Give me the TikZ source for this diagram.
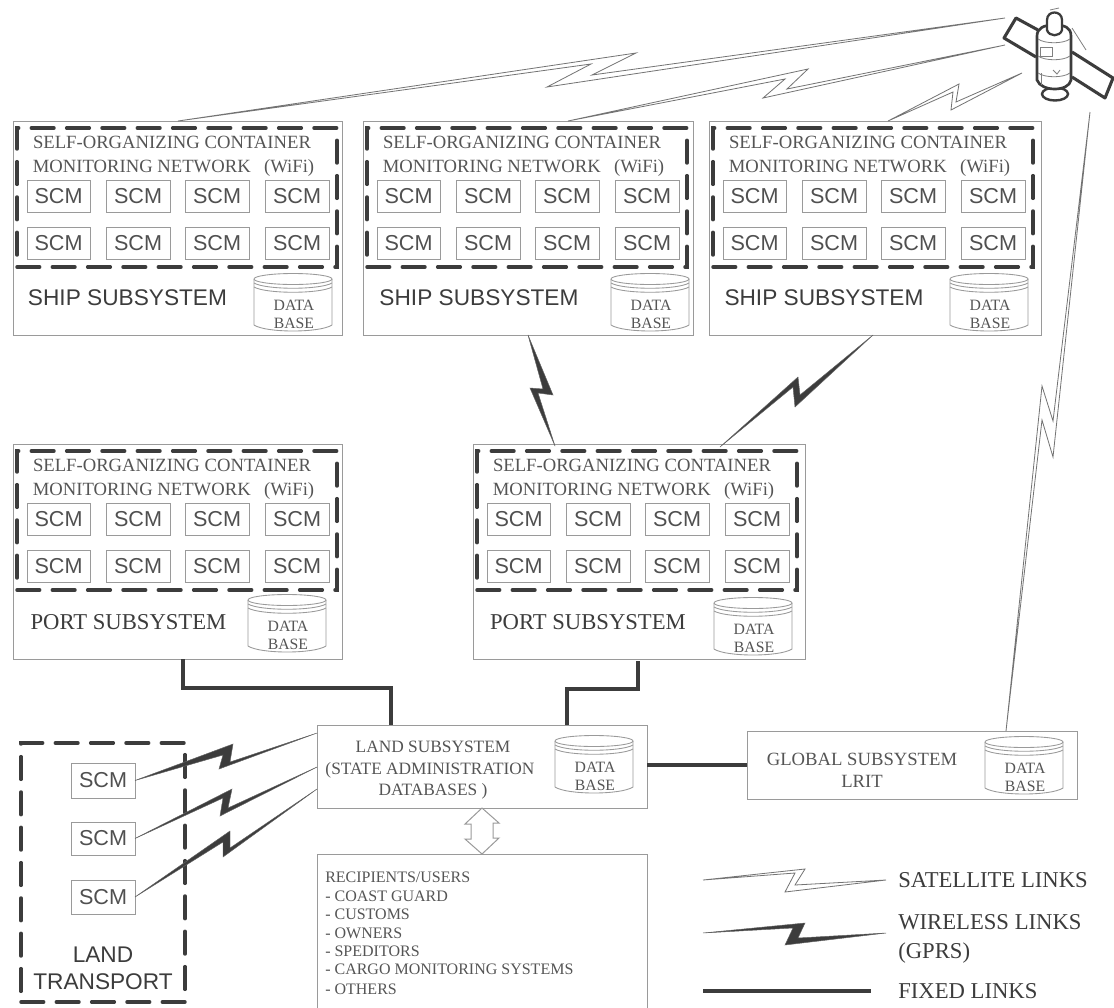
\documentclass[tikz,border=0pt]{standalone}
\usepackage{fontspec}
\usetikzlibrary{calc}
\setmainfont{Liberation Serif}
\newfontfamily\arialf{Liberation Sans}
\definecolor{boxgray}{HTML}{9A9A9A}
\definecolor{txt}{HTML}{555555}
\definecolor{dark}{HTML}{3C3C3C}
\newcommand\fs[1]{\fontsize{#1}{#1}\selectfont}
\tikzset{
  pbox/.style={draw=boxgray,line width=0.75pt,inner sep=0pt,outer sep=0pt,rectangle,fill=white},
  dashbox/.style={draw=dark,line width=2.6pt,line cap=round,dash pattern=on 17pt off 9.5pt,inner sep=0pt,outer sep=0pt,rectangle},
  scmbox/.style={draw=boxgray,line width=0.65pt,inner sep=0pt,outer sep=0pt,rectangle},
  scmtext/.style={text=dark!90,font=\arialf\fs{16.2}},
  serif14/.style={text=txt,font=\fs{14}},
  serif17/.style={text=dark,font=\fs{17}},
  sans17/.style={text=dark,font=\arialf\fs{17}},
  dbtext/.style={text=txt,font=\fs{11.8}},
  reclab/.style={text=txt,font=\fs{12},anchor=west,inner sep=0pt},
  satlink/.style={draw=gray!90!black,fill=white,line width=0.6pt,line join=miter},
  wirelink/.style={draw=dark!80,fill=dark,line width=0.35pt,line join=miter},
  fixedlink/.style={draw=dark,line width=3.5pt,line join=miter},
  dbline/.style={draw=boxgray,line width=0.65pt},
  satline/.style={draw=dark,line width=2.3pt,line join=round},
  satthin/.style={draw=gray,line width=0.6pt},
  twoway/.style={draw=boxgray,fill=white,line width=0.75pt}
}
% box given by its corners, in reference pixels
\newcommand\boxn[6][pbox]{%
  \pgfmathsetmacro\bw{((#5)-(#3))*0.75}\pgfmathsetmacro\bh{((#6)-(#4))*0.75}%
  \node[#1,minimum width=\bw pt,minimum height=\bh pt] (#2) at ({((#3)+(#5))/2},{((#4)+(#6))/2}) {};}
% SCM box with text
\newcommand\scm[5]{%
  \pgfmathsetmacro\bw{((#4)-(#2))*0.75}\pgfmathsetmacro\bh{((#5)-(#3))*0.75}%
  \node[scmbox,scmtext,minimum width=\bw pt,minimum height=\bh pt] (#1) at ({((#2)+(#4))/2},{((#3)+(#5))/2}) {SCM};}
% network block: prefix, dx, dy
\newcommand\network[3]{%
  \boxn[dashbox]{#1dash}{17+#2}{128+#3}{337+#2}{267+#3}
  \node[serif14] (#1la) at ({172+#2},{142+#3}) {SELF-ORGANIZING CONTAINER};
  \node[serif14,anchor=base] (#1lb) at ({173.5+#2},{172+#3}) {MONITORING NETWORK\hspace{10pt}(WiFi)};
  \scm{#1a}{27+#2}{180+#3}{90+#2}{212+#3}
  \scm{#1b}{106+#2}{180+#3}{170+#2}{212+#3}
  \scm{#1c}{185+#2}{180+#3}{249+#2}{212+#3}
  \scm{#1d}{265+#2}{180+#3}{329+#2}{212+#3}
  \scm{#1e}{27+#2}{227+#3}{90+#2}{259+#3}
  \scm{#1f}{106+#2}{227+#3}{170+#2}{259+#3}
  \scm{#1g}{185+#2}{227+#3}{249+#2}{259+#3}
  \scm{#1h}{265+#2}{227+#3}{329+#2}{259+#3}
}
% database cylinder: prefix, left x, top y
\newcommand\database[3]{%
  \draw[dbline] (#2,{#3+6}) arc[start angle=180,end angle=-180,x radius=39,y radius=-5.5];
  \draw[dbline] (#2,{#3+6}) -- (#2,{#3+52}) .. controls ({#2+12},{#3+60}) and ({#2+66},{#3+60}) .. ({#2+78},{#3+52}) -- ({#2+78},{#3+6});
  \draw[dbline] (#2,{#3+10}) .. controls ({#2+12},{#3+17}) and ({#2+66},{#3+17}) .. ({#2+78},{#3+10});
  \draw[dbline] (#2,{#3+14}) .. controls ({#2+12},{#3+21}) and ({#2+66},{#3+21}) .. ({#2+78},{#3+14});
  \node[dbtext] (#1da) at ({#2+40},{#3+32}) {DATA};
  \node[dbtext] (#1db) at ({#2+40},{#3+50}) {BASE};
}
% lightning link: style, end a, outline point, outline point, end b, outline point, outline point
\newcommand\bolt[7]{\draw[#1] (#2) -- #3 -- #4 -- (#5) -- #6 -- #7 -- cycle;}
\begin{document}
\begin{tikzpicture}[x=0.75pt,y=-0.75pt]
\useasboundingbox (0,0) rectangle (1114,1007);
\clip (0,0) rectangle (1114,1007);
\fill[white] (0,0) rectangle (1114,1007);

% subsystem boxes
\boxn{ship1}{13}{121}{342}{335}
\boxn{ship2}{363}{121}{693}{335}
\boxn{ship3}{709}{121}{1041}{335}
\boxn{port1}{13}{444}{342}{659}
\boxn{port2}{473}{444}{805}{659}
\boxn{land}{317}{725}{647}{808}
\boxn{global}{747}{731}{1077}{799}
\boxn{rec}{317}{854}{647}{1015}

\network{sa}{0}{0}
\network{sb}{350}{0}
\network{sc}{696}{0}
\network{pa}{0}{323}
\network{pb}{460}{323}

\node[sans17] (t1) at (127.5,298) {SHIP SUBSYSTEM};
\node[sans17] (t2) at (479,298) {SHIP SUBSYSTEM};
\node[sans17] (t3) at (824,298) {SHIP SUBSYSTEM};
\node[serif17] (t4) at (128.5,622) {PORT SUBSYSTEM};
\node[serif17] (t5) at (588,622) {PORT SUBSYSTEM};

\database{da}{254}{273}
\database{db}{611}{273}
\database{dc}{950}{273}
\database{dd}{248}{594}
\database{de}{714}{597}
\database{df}{555}{735}
\database{dg}{985}{736}

\node[text=txt,font=\fs{13}] (l1) at (433,747) {LAND SUBSYSTEM};
\node[text=txt,font=\fs{13},anchor=base] (l2) at (430,774) {(STATE ADMINISTRATION};
\node[text=txt,font=\fs{13},anchor=base] (l3) at (433,795) {DATABASES )};
\node[serif14] (g1) at (862,759) {GLOBAL SUBSYSTEM};
\node[serif14] (g2) at (862,781) {LRIT};

\node[reclab] (r0) at (325,877) {RECIPIENTS/USERS};
\node[reclab] (r1) at (325,896) {- COAST GUARD};
\node[reclab] (r2) at (325,914) {- CUSTOMS};
\node[reclab] (r3) at (325,933) {- OWNERS};
\node[reclab] (r4) at (325,951) {- SPEDITORS};
\node[reclab] (r5) at (325,969) {- CARGO MONITORING SYSTEMS};
\node[reclab] (r6) at (325,989) {- OTHERS};

% two-way arrow
\draw[twoway] (land.south) -- ++(17,15) -- ++(-6,0) -- ++(0,15) -- ++(6,0) -- (rec.north)
  -- ++(-17,-15) -- ++(6,0) -- ++(0,-15) -- ++(-6,0) -- cycle;

% land transport
\boxn[dashbox]{lt}{21}{743}{185}{1002}
\scm{lta}{71}{763}{135}{798}
\scm{ltb}{71}{822}{135}{855}
\scm{ltc}{71}{880}{135}{914}
\node[sans17] (lt1) at (103,955) {LAND};
\node[sans17] (lt2) at (103,982) {TRANSPORT};

% fixed links
\coordinate (fa) at ($(land.north west)+(74,0)$);
\coordinate (fb) at ($(land.north west)+(250,0)$);
\draw[fixedlink] ($(port1.south west)+(170,0)$) -- ++(0,29) -| (fa);
\draw[fixedlink] ($(port2.south west)+(165,2)$) -- ++(0,28) -| (fb);
\coordinate (fc) at ($(land.north east)+(0,40)$);
\draw[fixedlink] (fc) -- (global.west |- fc);

% satellite
\draw[satline] (1038,30) -- (1016,18) -- (1004,38) -- (1036,57);
\draw[satline] (1072,52) -- (1113,78) -- (1105,98) -- (1072,77);
\draw[draw=dark,line width=1.8pt,fill=white] (1055,94) ellipse[x radius=13,y radius=6.5];
\draw[draw=dark,line width=2pt,fill=white] (1037,36) .. controls (1037,28) and (1044,25) .. (1054,25)
  .. controls (1064,25) and (1071,27) .. (1071,36) -- (1071,80)
  .. controls (1069,92) and (1041,92) .. (1037,80) -- cycle;
\draw[draw=dark,line width=1.7pt,fill=white] (1047,20) .. controls (1047,10) and (1062,10) .. (1062,20)
  -- (1062,30) .. controls (1060,37) and (1049,37) .. (1047,30) -- cycle;
\draw[satthin] (1038,39) .. controls (1045,44) and (1063,44) .. (1070,39);
\draw[satthin] (1038,56) .. controls (1045,61) and (1063,61) .. (1070,56);
\draw[satthin] (1038,73) .. controls (1045,78) and (1063,78) .. (1070,73);
\draw[satthin] (1040,47) rectangle (1052,56);
\draw[satthin] (1072,28) -- (1086,50);
\draw[satthin] (1050,10) -- (1059,8);
\draw[satthin] (1041,73) -- (1041,85);
\draw[satthin] (1053,70) -- (1057,74) -- (1060,70);

% satellite links
\coordinate (sa1) at (1005,18);
\coordinate (sa2) at (1005,45);
\coordinate (sa3) at (1022,73);
\coordinate (sa4) at (1090,112);
\coordinate (ea) at ($(ship1.north west)+(165,0)$);
\coordinate (eb) at ($(ship2.north west)+(205,0)$);
\coordinate (ec) at ($(ship3.north west)+(179,0)$);
\coordinate (ed) at ($(global.north west)+(259,0)$);
\bolt{satlink}{ea}{(636,53)}{(592,75)}{sa1}{(547,87)}{(591,64)}
\bolt{satlink}{eb}{(808,69)}{(787,89)}{sa2}{(763,98)}{(785,79)}
\bolt{satlink}{ec}{(959,84)}{(956,102)}{sa3}{(951,110)}{(953,92)}
\bolt{satlink}{ed}{(1042,386)}{(1053,421)}{sa4}{(1053,457)}{(1042,420)}

% wireless links
\coordinate (wa) at ($(ship2.south west)+(165,0)$);
\coordinate (wb) at ($(port2.north west)+(82,2)$);
\coordinate (wc) at ($(ship3.south west)+(164,0)$);
\coordinate (wd) at ($(port2.north west)+(247,3)$);
\bolt{wirelink}{wa}{(553,395)}{(538,393)}{wb}{(530,388)}{(543,389)}
\bolt{wirelink}{wd}{(798,377)}{(800,395)}{wc}{(795,407)}{(793,387)}
\coordinate (la) at ($(land.north west)+(0,8)$);
\coordinate (lb) at ($(land.north west)+(0,42)$);
\coordinate (lc) at ($(land.north west)+(0,64)$);
\bolt{wirelink}{lta.east}{(233,744)}{(230,762)}{la}{(219,769)}{(223,755)}
\bolt{wirelink}{ltb.east}{(232,789)}{(228,808)}{lb}{(220,816)}{(223,798)}
\bolt{wirelink}{ltc.east}{(230,831)}{(230,848)}{lc}{(223,857)}{(223,842)}

% legend
\coordinate (k1a) at (703,880);
\coordinate (k1b) at (886,880);
\coordinate (k2a) at (703,933);
\coordinate (k2b) at (886,933);
\coordinate (k3a) at (703,991);
\coordinate (k3b) at (871,991);
\bolt{satlink}{k1a}{(805,869)}{(795,885)}{k1b}{(785,892)}{(795,873)}
\bolt{wirelink}{k2a}{(805,923)}{(798,938)}{k2b}{(785,945)}{(793,928)}
\draw[fixedlink] (k3a) -- (k3b);
\node[serif17,anchor=west,inner sep=0pt] (k1) at (898,880) {SATELLITE LINKS};
\node[serif17,anchor=west,inner sep=0pt] (k2) at (898,922) {WIRELESS LINKS};
\node[serif17,anchor=base west,inner sep=0pt] (k2t) at (898,958) {(GPRS)};
\node[serif17,anchor=west,inner sep=0pt] (k3) at (898,991) {FIXED LINKS};
\end{tikzpicture}
\end{document}
